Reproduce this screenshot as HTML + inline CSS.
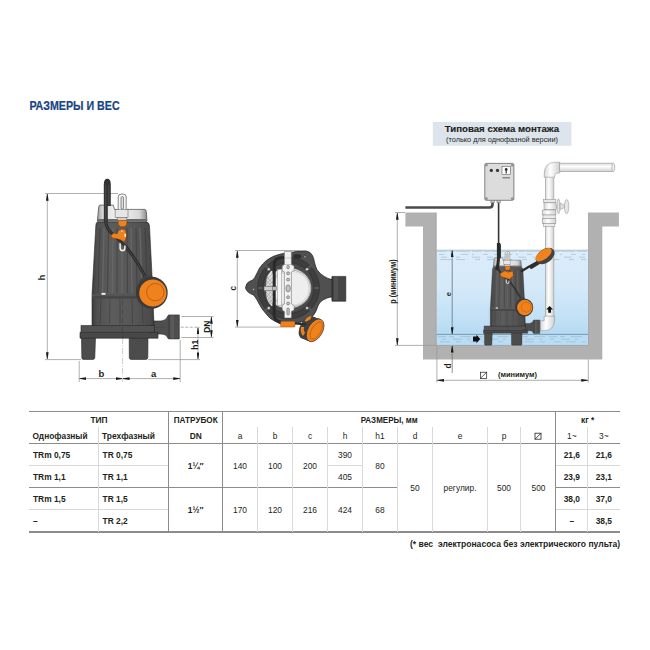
<!DOCTYPE html>
<html><head><meta charset="utf-8">
<style>
html,body{margin:0;padding:0;background:#fff;width:650px;height:650px;overflow:hidden}
svg{display:block}
text{font-family:"Liberation Sans",sans-serif;fill:#231f20}
.b{font-weight:bold}
.t{font-size:8.4px}
</style></head><body>
<svg width="650" height="650" viewBox="0 0 650 650">
<defs>
 <linearGradient id="water" x1="0" y1="0" x2="0" y2="1">
  <stop offset="0" stop-color="#dcedfa"/>
  <stop offset="0.4" stop-color="#d4e9f9"/>
  <stop offset="0.75" stop-color="#c0dff5"/>
  <stop offset="1" stop-color="#aad6f2"/>
 </linearGradient>
 <linearGradient id="silver" x1="0" y1="0" x2="1" y2="0">
  <stop offset="0" stop-color="#9c9c9c"/>
  <stop offset="0.12" stop-color="#dedede"/>
  <stop offset="0.45" stop-color="#f4f4f4"/>
  <stop offset="0.85" stop-color="#d6d6d6"/>
  <stop offset="1" stop-color="#8a8a8a"/>
 </linearGradient>
 <linearGradient id="body" x1="0" y1="0" x2="1" y2="0">
  <stop offset="0" stop-color="#3c3c3c"/>
  <stop offset="0.08" stop-color="#505050"/>
  <stop offset="0.3" stop-color="#5c5c5c"/>
  <stop offset="0.7" stop-color="#565656"/>
  <stop offset="0.95" stop-color="#4a4a4a"/>
  <stop offset="1" stop-color="#3a3a3a"/>
 </linearGradient>
 <linearGradient id="pipe" x1="0" y1="0" x2="1" y2="0">
  <stop offset="0" stop-color="#d8d8d8"/>
  <stop offset="0.4" stop-color="#ffffff"/>
  <stop offset="1" stop-color="#cfcfcf"/>
 </linearGradient>
 <linearGradient id="pipeh" x1="0" y1="0" x2="0" y2="1">
  <stop offset="0" stop-color="#d8d8d8"/>
  <stop offset="0.4" stop-color="#ffffff"/>
  <stop offset="1" stop-color="#cfcfcf"/>
 </linearGradient>
 <g id="pbody">
  <!-- outlet -->
  <path d="M150,321 L161,321 Q165.5,320.5 167,317.5 Q167.8,315 169,314.9 L179.3,314.9 L179.3,338.9 L169,338.9 Q167.8,338.9 167,336.5 Q165.5,334 161,334 L150,334 Z" fill="#4e4e4e" stroke="#262626" stroke-width="0.6"/>
  <line x1="169" y1="315.2" x2="169" y2="338.6" stroke="#2a2a2a" stroke-width="0.5"/>
  <rect x="170.5" y="315.5" width="3.5" height="23" fill="#5a5a5a"/>
  <line x1="150" y1="327.5" x2="166" y2="327.5" stroke="#444" stroke-width="0.5"/>
  <!-- feet -->
  <path d="M81.5,337 L95.5,337 L94.8,357.5 Q94.6,359.4 93,359.4 L83.2,359.4 Q81.8,359.4 81.8,357.5 Z" fill="#4c4c4c" stroke="#262626" stroke-width="0.6"/>
  <path d="M127.5,334.5 L150,334.5 L148,337 L147.8,357.5 Q147.6,359.4 146,359.4 L131,359.4 Q129.4,359.4 129.3,357.5 L129.2,337 Z" fill="#4c4c4c" stroke="#262626" stroke-width="0.6"/>
  <!-- base plates -->
  <path d="M80,332.3 L158,332.3 L158,338.2 L80,338.2 Z" fill="#484848" stroke="#262626" stroke-width="0.6"/>
  <path d="M81,325.5 L154.5,325.5 L154.5,332.3 L81,332.3 Z" fill="#525252" stroke="#262626" stroke-width="0.6"/>
  <!-- lower body -->
  <path d="M92,295 L152.8,295 L154,325.5 L92,325.5 Z" fill="url(#body)" stroke="#262626" stroke-width="0.6"/>
  <g stroke="#3a3a3a" stroke-width="0.6">
   <line x1="101" y1="298" x2="100" y2="324"/><line x1="110" y1="298" x2="109.5" y2="324"/>
   <line x1="120" y1="298" x2="120" y2="324"/><line x1="132" y1="298" x2="132.5" y2="324"/>
   <line x1="142" y1="298" x2="143" y2="324"/>
  </g>
  <!-- upper body -->
  <path d="M97.5,222 L146.5,222 Q149,222 149.5,226 L153,295 L92,295 L95.8,226 Q96,222 97.5,222 Z" fill="url(#body)" stroke="#262626" stroke-width="0.6"/>
  <g stroke="#666" stroke-width="1.4">
   <line x1="104" y1="228" x2="102.5" y2="293"/><line x1="113" y1="228" x2="112.5" y2="293"/>
   <line x1="122" y1="228" x2="122" y2="293"/>
   <line x1="131" y1="228" x2="132" y2="293"/><line x1="140" y1="228" x2="142" y2="293"/>
  </g>
  <g stroke="#3c3c3c" stroke-width="0.7">
   <line x1="100" y1="228" x2="98" y2="293"/><line x1="108.5" y1="228" x2="107.5" y2="293"/>
   <line x1="117" y1="228" x2="117" y2="293"/><line x1="127" y1="228" x2="127.5" y2="293"/>
   <line x1="136" y1="228" x2="137" y2="293"/><line x1="145" y1="228" x2="147.5" y2="293"/>
  </g>
  <rect x="92" y="294.8" width="61" height="3.9" fill="#474747"/><rect x="92" y="294.6" width="61" height="0.8" fill="#6a6a6a"/>
  <rect x="101.5" y="292.9" width="4" height="1.9" fill="#f2f2f2"/>
  <!-- cap -->
  <path d="M99.8,205.1 L113.3,205.1 L114.5,209.4 L144.8,209.4 Q146.2,209.6 146.3,211.5 L147,221.3 L97.3,221.3 L98.6,208 Q99,205.1 99.8,205.1 Z" fill="url(#silver)" stroke="#2a2a2a" stroke-width="0.6"/>
  <rect x="97.6" y="219" width="49.2" height="2.5" fill="#6a6a6a"/>
  <!-- handle -->
  <rect x="118.2" y="194.1" width="8" height="18" rx="2.8" fill="#f4f4f4" stroke="#3a3a3a" stroke-width="0.6"/>
  <rect x="121" y="196.6" width="2.5" height="12.6" rx="1.25" fill="#dcdcdc" stroke="#333" stroke-width="0.5"/>
  <rect x="115.1" y="209.4" width="12.9" height="8" fill="#e6e6e6" stroke="#555" stroke-width="0.5"/>
  <rect x="117.5" y="217.4" width="9.3" height="3.4" fill="#cfcfcf" stroke="#555" stroke-width="0.4"/>
  <!-- cable loop -->
  <path d="M105.8,222 L105.8,184.5 Q105.8,180.8 107.3,180.8 Q108.8,180.8 108.8,184.5 L108.8,206" fill="none" stroke="#333" stroke-width="4"/>
  <path d="M105.8,185 L105.8,221 M108.8,185 L108.8,205" stroke="#4c4c4c" stroke-width="1"/>
  <!-- cable down to float -->
  <path d="M105.6,221 Q106.5,229 112,233.5 Q120,240 127,248 Q138,262 146,278" fill="none" stroke="#2a2a2a" stroke-width="3"/>
  <path d="M105.6,221 Q106.5,229 112,233.5 Q120,240 127,248 Q138,262 146,278" fill="none" stroke="#4e4e4e" stroke-width="0.9"/>
  <!-- orange clip -->
  <path d="M118.2,220.5 L126.8,220.5 L126.8,224.5 L124.5,226.7 L120.5,226.7 L118.2,224.5 Z" fill="#ef821d" stroke="#6a3300" stroke-width="0.4"/>
  <path d="M110.8,235.5 L114,233 L117,234 L118.5,230.5 L121.5,229.1 L125.2,229.6 L126.2,233 L126.2,238 L124,242 L121,240 L118,239 L115,238.5 L112,237.8 Z" fill="#ef821d" stroke="#6a3300" stroke-width="0.4"/>
  <circle cx="121.9" cy="231.3" r="1" fill="#f6f6f6" stroke="#555" stroke-width="0.3"/>
  <rect x="124.5" y="233.8" width="1.4" height="3" fill="#f6f6f6"/>
  <!-- hook -->
  <path d="M120.1,243.3 L120.1,248 Q120.1,250.6 122.5,250.6 Q124.9,250.6 124.9,248 L124.9,245.5" fill="none" stroke="#f6f6f6" stroke-width="1.5"/>
  <line x1="122.4" y1="300" x2="122.4" y2="338" stroke="#3a3a3a" stroke-width="0.5" stroke-dasharray="5,1.5,1,1.5"/>
 </g>
 <g id="float1">
  <path d="M-12,-14 Q-2,-22 2,-16 L2,-6 L-12,-6 Z" fill="#444"/>
  <ellipse cx="0.2" cy="-1" rx="15.9" ry="16" fill="#3a3a3a"/>
  <circle cx="1.25" cy="-0.8" r="13.6" fill="#ef821d"/>
  <circle cx="3.7" cy="-1.6" r="8.7" fill="none" stroke="#9a4a08" stroke-width="0.6"/>
 </g>
 <marker id="ar" viewBox="0 0 10 4" refX="10" refY="2" markerWidth="6.8" markerHeight="2.7" orient="auto-start-reverse" markerUnits="userSpaceOnUse">
  <path d="M0,0 L10,1.6 L10,2.4 L0,4 z" fill="#1a1a1a"/>
 </marker>
</defs>

<!-- Title -->
<text x="29.4" y="110.4" class="b" style="font-size:11.9px;fill:#174483;stroke:#174483;stroke-width:0.2" textLength="90.2" lengthAdjust="spacingAndGlyphs">РАЗМЕРЫ И ВЕС</text>

<!-- ================= PUMP 1 (side) ================= -->
<!-- dimensions pump 1 -->
<g stroke="#9a9a9a" stroke-width="0.8" fill="none">
 <line x1="45" y1="193.5" x2="118" y2="193.5"/>
 <line x1="45" y1="359.6" x2="81" y2="359.6"/>
 <line x1="148" y1="359.6" x2="200" y2="359.6"/>
 <line x1="47.3" y1="194" x2="47.3" y2="359" marker-start="url(#ar)" marker-end="url(#ar)"/>
 <line x1="79.2" y1="361" x2="79.2" y2="382"/>
 <line x1="180.2" y1="340" x2="180.2" y2="382"/>
 <line x1="122.6" y1="338" x2="122.6" y2="382" stroke-dasharray="6,1.5,1,1.5" stroke-width="0.5"/>
 <line x1="79.5" y1="378.6" x2="122.3" y2="378.6" marker-start="url(#ar)" marker-end="url(#ar)"/>
 <line x1="122.9" y1="378.6" x2="180" y2="378.6" marker-start="url(#ar)" marker-end="url(#ar)"/>
 <line x1="181.4" y1="316.5" x2="213.6" y2="316.5"/>
 <line x1="181.4" y1="337.5" x2="213.6" y2="337.5"/>
 <line x1="180.8" y1="327.2" x2="199.7" y2="327.2" stroke-dasharray="3,1.5"/>
 <line x1="211.4" y1="317" x2="211.4" y2="337" marker-start="url(#ar)" marker-end="url(#ar)"/>
 <line x1="198" y1="327.5" x2="198" y2="359.2" marker-start="url(#ar)" marker-end="url(#ar)"/>
</g>
<use href="#pbody"/>
<use href="#float1" x="151.6" y="293.8"/>
<g class="b" style="font-size:9.5px">
 <text x="101.4" y="376.6" text-anchor="middle">b</text>
 <text x="153.6" y="376.6" text-anchor="middle">a</text>
 <text transform="translate(45.3,277.6) rotate(-90)" text-anchor="middle">h</text>
 <text transform="translate(210.1,326.7) rotate(-90)" text-anchor="middle" style="font-size:8.5px">DN</text>
 <text transform="translate(198.1,344.7) rotate(-90)" text-anchor="middle" style="font-size:8.5px">h1</text>
</g>

<!-- ================= PUMP 2 (top) ================= -->
<g>
 <!-- outlet -->
 <path d="M318,281 L332,279.5 L332,276.4 L345.8,276.4 L345.8,301.2 L332,301.2 L332,297 L318,295 Z" fill="#454545" stroke="#1e1e1e" stroke-width="0.6"/>
 <rect x="334" y="277.5" width="4" height="22.5" fill="#535353"/>
 <line x1="332" y1="277" x2="332" y2="300.6" stroke="#2a2a2a" stroke-width="0.5"/>
 <!-- outer shape -->
 <path d="M245.5,288.1 Q246,283 249.2,281.6 Q252.5,280.5 254.4,278.3 Q257,273 259.6,267.9 Q262.5,263.8 266.1,260.7 Q270,257.8 274,256.1 Q278.5,254.3 283.1,253.5 Q288,252.5 292.3,252.2 L298,251 L305.9,250.9 Q310.5,251.5 312.5,255.5 Q314,258.5 314.4,262 Q315.5,266.5 317,269.8 Q320,274 324.2,276.4 Q327.5,278.5 332,279.7 L332,296.7 Q327,297.5 322.9,300 Q320.5,301.5 319,303.9 Q317.2,307 316.4,310.4 Q314,316 309,319 Q300,323.5 291,323.6 Q285,324 279.2,323.4 Q274,321 270,318.2 Q265.5,313.5 262.2,309 Q259,304 257,299.9 Q255,296.5 253,294.7 Q247,293 245.5,288.1 Z" fill="#505050" stroke="#1e1e1e" stroke-width="0.7"/>
 <!-- dark rim -->
 <circle cx="288.5" cy="288" r="31" fill="#3e3e3e" stroke="#2a2a2a" stroke-width="0.5"/>
 <g stroke="#565656" stroke-width="2.2">
  <line x1="265" y1="265" x2="269" y2="269"/><line x1="312" y1="265" x2="308" y2="269"/>
  <line x1="265" y1="311" x2="269" y2="307"/><line x1="312" y1="311" x2="308" y2="307"/>
  <line x1="258" y1="288" x2="263" y2="288"/><line x1="288.5" y1="257.5" x2="288.5" y2="262"/>
  <line x1="319" y1="288" x2="314" y2="288"/>
 </g>
 <circle cx="288.5" cy="288" r="25.5" fill="#4a4a4a" stroke="#2a2a2a" stroke-width="0.5"/>
 <!-- light disc -->
 <ellipse cx="288.5" cy="288.2" rx="23" ry="20.6" fill="#dedede" stroke="#444" stroke-width="0.6"/>
 <ellipse cx="291" cy="288.4" rx="19.5" ry="18.4" fill="#ececec" stroke="#8a8a8a" stroke-width="0.6"/>
 <ellipse cx="291" cy="288.4" rx="18" ry="17" fill="#eeeeee" stroke="#b5b5b5" stroke-width="0.4"/>
 <!-- hatch grille left -->
 <path d="M266.5,279 Q265.5,288 266.5,297 Q268,303 271.5,306 L272.5,306 L272.5,271 L271,271 Q268,274 266.5,279 Z" fill="#e2e2e2"/>
 <g stroke="#7a7a7a" stroke-width="0.45">
  <line x1="266" y1="281" x2="272" y2="274"/><line x1="265.8" y1="285" x2="272.5" y2="277.5"/>
  <line x1="265.8" y1="289" x2="272.5" y2="281.5"/><line x1="266" y1="293" x2="272.5" y2="285.5"/>
  <line x1="266.5" y1="297" x2="272.5" y2="290"/><line x1="267.5" y1="300.5" x2="272.5" y2="294.5"/>
  <line x1="269" y1="303.5" x2="272.5" y2="299"/>
  <line x1="266" y1="276" x2="272.5" y2="283"/><line x1="265.8" y1="280" x2="272.5" y2="287"/>
  <line x1="265.8" y1="284" x2="272.5" y2="291"/><line x1="266" y1="288" x2="272.5" y2="295"/>
  <line x1="266.2" y1="292" x2="272.5" y2="299"/><line x1="267" y1="296" x2="272.5" y2="302"/>
  <line x1="268.5" y1="300" x2="272" y2="304"/>
 </g>
 <rect x="277.4" y="269.5" width="4.2" height="36" fill="#f6f6f6" stroke="#8a8a8a" stroke-width="0.5"/>
 <!-- handle bar -->
 <path d="M282.2,266 L284.4,264.5 L284.4,251.5 L291.4,251.5 L291.4,264.5 L294.1,266 L294.1,270.5 L291.4,272 L291.4,304 L294.1,305.5 L294.1,310 L291.4,311.5 L291.4,318 L284.4,318 L284.4,311.5 L282.2,310 L282.2,305.5 L284.4,304 L284.4,272 L282.2,270.5 Z" fill="#f2f2f2" stroke="#6a6a6a" stroke-width="0.55"/>
 <line x1="284.4" y1="258" x2="291.4" y2="258" stroke="#999" stroke-width="0.5"/>
 <line x1="284.4" y1="264.5" x2="291.4" y2="264.5" stroke="#999" stroke-width="0.5"/>
 <g fill="#c4c4c4" stroke="#4a4a4a" stroke-width="0.5">
  <rect x="286.9" y="265.5" width="2.4" height="3.2" rx="1"/>
  <circle cx="288.1" cy="273.3" r="1.5"/><circle cx="288.1" cy="279.6" r="1.5"/>
  <ellipse cx="288.1" cy="288.4" rx="2.2" ry="3.6"/>
  <circle cx="288.1" cy="297.2" r="1.5"/><circle cx="288.1" cy="303.5" r="1.5"/>
  <rect x="286.9" y="308" width="2.4" height="7" rx="1.2"/>
 </g>
 <!-- bolts -->
 <g fill="#d9d9d9" stroke="#333" stroke-width="0.4">
  <circle cx="268.8" cy="269.2" r="1.5"/><circle cx="307" cy="269.2" r="1.5"/>
  <circle cx="268.8" cy="308" r="1.5"/><circle cx="307" cy="308" r="1.5"/>
  <circle cx="253.5" cy="289.3" r="0.9"/><circle cx="305" cy="256.8" r="0.9"/>
 </g>
 <!-- cable -->
 <path d="M284,257.5 Q279,257.5 276.5,259 Q274.2,261 274.2,265 L274.2,316 Q274.5,320.5 281,322.2" fill="none" stroke="#2a2a2a" stroke-width="3"/>
 <rect x="264" y="286.3" width="10" height="4.4" fill="#d0d0d0" stroke="#555" stroke-width="0.5"/>
 <rect x="272.2" y="286.8" width="4" height="3.4" fill="#bbb" stroke="#444" stroke-width="0.4"/>
 <rect x="293.3" y="254.3" width="8" height="4.2" rx="2" fill="#2e2e2e"/>
  <!-- clip -->
 <rect x="280.6" y="321.2" width="14.4" height="5.9" rx="1" fill="#ef821d" stroke="#6a3300" stroke-width="0.4"/>
 <!-- float -->
 <g fill="#404040">
  <ellipse cx="0" cy="0" rx="7.3" ry="12.4" transform="translate(307.5,327.5) rotate(30)"/>
  <ellipse cx="0" cy="0" rx="7.3" ry="12.4" transform="translate(310,328.5) rotate(30)"/>
  <ellipse cx="0" cy="0" rx="7.6" ry="12.7" transform="translate(313,329.6) rotate(30)"/>
 </g>
 <path d="M301,327 Q300,333 303,336 L305,333 Q303,330 304,327 Z" fill="#ef821d"/>
 <path d="M304.5,320.5 Q307.5,315.5 312,315.8 L310.5,319.5 L306,322 Z" fill="#ef821d" stroke="#3a3a3a" stroke-width="0.4"/>
 <ellipse cx="0" cy="0" rx="7.3" ry="12.4" transform="translate(315.2,330.4) rotate(30)" fill="#ef821d" stroke="#2e2e2e" stroke-width="0.6"/>
 <ellipse cx="0" cy="0" rx="4.6" ry="9.6" transform="translate(316.2,330.6) rotate(30)" fill="none" stroke="#9a4a08" stroke-width="0.5"/>
 <path d="M295,323.5 L306,324.5" stroke="#2e2e2e" stroke-width="2.2"/>
</g>
<!-- dims pump 2 -->
<g stroke="#9a9a9a" stroke-width="0.8" fill="none">
 <line x1="235" y1="250.5" x2="299" y2="250.5"/>
 <line x1="235" y1="327.1" x2="281" y2="327.1"/>
 <line x1="237.3" y1="251" x2="237.3" y2="326.6" marker-start="url(#ar)" marker-end="url(#ar)"/>
</g>
<text class="b" transform="translate(235.6,288.2) rotate(-90)" text-anchor="middle" style="font-size:8.2px">c</text>

<!-- ================= INSTALLATION ================= -->
<rect x="432.8" y="121.9" width="138.6" height="23.9" fill="#dde4eb"/>
<text x="502" y="132.3" class="b" text-anchor="middle" style="font-size:9.7px;stroke:#231f20;stroke-width:0.15" textLength="114.4" lengthAdjust="spacingAndGlyphs">Типовая схема монтажа</text>
<text x="502" y="141.8" text-anchor="middle" style="font-size:7.7px" textLength="112" lengthAdjust="spacingAndGlyphs">(только для однофазной версии)</text>

<!-- water -->
<rect x="436.4" y="250" width="152" height="95.5" fill="url(#water)"/>
<rect x="436.4" y="334.2" width="152" height="11.2" fill="#b8ddf5"/>
<line x1="436.4" y1="334.4" x2="588.3" y2="334.4" stroke="#6f8798" stroke-width="0.8"/>
<line x1="436.4" y1="250.2" x2="588.3" y2="250.2" stroke="#9fb6c6" stroke-width="0.8"/>
<g stroke="#9db4c5" stroke-width="0.6" fill="none">
 <line x1="437" y1="251.4" x2="588" y2="251.4" stroke="#b4c6d3" stroke-width="0.7" stroke-dasharray="10,2,6,1,14,2"/>
 <line x1="439" y1="254.4" x2="586" y2="254.4" stroke-dasharray="5,6,3,8,7,4,2,9"/>
 <line x1="441" y1="257.2" x2="586" y2="257.2" stroke-dasharray="6,9,4,12,8,7"/>
 <line x1="440" y1="259.6" x2="586" y2="259.6" stroke-dasharray="12,4,9,10,5,7"/>
 <line x1="438" y1="336.6" x2="586" y2="336.6" stroke-dasharray="8,3,5,6,11,4"/>
 <line x1="442" y1="339.2" x2="586" y2="339.2" stroke-dasharray="4,7,9,5,3,8"/>
 <line x1="440" y1="341.8" x2="586" y2="341.8" stroke-dasharray="10,6,5,9,7,5"/>
</g>
<!-- walls -->
<path d="M405.4,212.5 L436.4,212.5 L436.4,345.4 L588.3,345.4 L588.3,212.5 L618.9,212.5 L618.9,226.5 L602.3,226.5 L602.3,359.4 L423,359.4 L423,226.5 L405.4,226.5 Z" fill="#b1b1b1"/>
<line x1="436.4" y1="345.4" x2="588.3" y2="345.4" stroke="#8c8c8c" stroke-width="0.6"/>
<line x1="436.2" y1="212.5" x2="436.2" y2="345.4" stroke="#999" stroke-width="0.6"/>
<line x1="588.5" y1="212.5" x2="588.5" y2="345.4" stroke="#999" stroke-width="0.6"/>

<!-- pipe -->
<rect x="545.3" y="176" width="8.6" height="142" fill="url(#pipe)" stroke="#8a8a8a" stroke-width="0.5"/>
<path d="M544.2,177.2 L544.2,174 Q544.2,162.2 556,162.2 L559.8,162.2 L559.8,173 L558,173 Q554.6,173 554.6,176 L554.6,177.2 Z" fill="url(#pipe)" stroke="#8a8a8a" stroke-width="0.5"/>
<rect x="559.8" y="163.1" width="53.5" height="8.6" fill="url(#pipeh)" stroke="#8a8a8a" stroke-width="0.5"/>
<ellipse cx="613.3" cy="167.4" rx="1.5" ry="4.3" fill="#eee" stroke="#8a8a8a" stroke-width="0.5"/>
<!-- valve -->
<rect x="543.5" y="199.5" width="12.4" height="3.2" fill="#e8e8e8" stroke="#8a8a8a" stroke-width="0.5"/>
<path d="M544,202.7 L556,202.7 L556,204 Q557.5,206.5 556,209.5 L544,209.5 Z" fill="url(#pipe)" stroke="#8a8a8a" stroke-width="0.5"/>
<ellipse cx="558.5" cy="206.3" rx="1.5" ry="7.5" fill="#e4e4e4" stroke="#8a8a8a" stroke-width="0.5"/>
<path d="M560,203 L564.4,205 L564.4,207.6 L560,209.6 Z" fill="#e0e0e0" stroke="#8a8a8a" stroke-width="0.5"/>
<ellipse cx="566.6" cy="206.6" rx="2.2" ry="7.2" fill="#e6e6e6" stroke="#8a8a8a" stroke-width="0.5"/>
<rect x="542.2" y="210" width="13.7" height="5" fill="url(#pipe)" stroke="#8a8a8a" stroke-width="0.5"/>
<rect x="543" y="215" width="12.2" height="3.5" fill="#ececec" stroke="#8a8a8a" stroke-width="0.5"/>
<rect x="542.2" y="218.5" width="13.7" height="5" fill="url(#pipe)" stroke="#8a8a8a" stroke-width="0.5"/>
<rect x="543.5" y="223.5" width="11.4" height="2.8" fill="#ececec" stroke="#8a8a8a" stroke-width="0.5"/>
<!-- bottom elbow -->
<path d="M544.2,316.2 L554.6,316.2 L554.6,320 Q554.6,330.8 543,330.8 L540.4,330.8 L540.4,320.8 L544.2,320.8 Z" fill="url(#pipe)" stroke="#8a8a8a" stroke-width="0.5"/>
<path d="M549.6,306 L553,309.5 L551,309.5 L551,312.7 L548.2,312.7 L548.2,309.5 L546.2,309.5 Z" fill="#111"/>

<!-- control box -->
<path d="M492.5,202.5 L492.5,204.5 Q492.5,207.5 489.5,207.5 L405.4,207.5" fill="none" stroke="#4a4a4a" stroke-width="2.6"/>
<line x1="498.6" y1="202.5" x2="498.6" y2="243" stroke="#333" stroke-width="1.6"/>
<rect x="484.8" y="163.4" width="29.1" height="36.9" rx="1.5" fill="#dcdcdc" stroke="#555" stroke-width="0.7"/>
<g fill="#aaa" stroke="#555" stroke-width="0.4">
 <circle cx="486.5" cy="165.2" r="1"/><circle cx="512.2" cy="165.2" r="1"/>
 <circle cx="486.5" cy="198.6" r="1"/><circle cx="512.2" cy="198.6" r="1"/>
</g>
<circle cx="491.3" cy="170.4" r="1.6" fill="#333"/>
<circle cx="497.5" cy="170.4" r="1.6" fill="#333"/>
<rect x="502" y="166.3" width="8.4" height="8.3" fill="#fff" stroke="#444" stroke-width="0.5"/>
<circle cx="506.2" cy="169.4" r="1.4" fill="#333"/>
<rect x="505.6" y="169.5" width="1.2" height="4" fill="#333"/>
<rect x="502.4" y="177.2" width="7.6" height="1.2" fill="#777"/>
<rect x="490.9" y="200.3" width="3.3" height="2.5" fill="#c8c8c8" stroke="#555" stroke-width="0.4"/>
<rect x="497" y="200.3" width="3.3" height="2.5" fill="#c8c8c8" stroke="#555" stroke-width="0.4"/>

<!-- pump in tank -->
<g transform="translate(483.5,345) scale(0.567) translate(-80,-359)">
 <use href="#pbody"/>
 <use href="#float1" x="151.6" y="293.8"/>
</g>
<path d="M498.4,243 L498.4,259 Q498,266 496.5,270" fill="none" stroke="#2a2a2a" stroke-width="3"/>
<path d="M500,273.5 L505,270.8 L508,272.3 L512.8,271 L513.4,275.5 L509.5,279.2 L505,277.8 L501,276.5 Z" fill="#ef821d" stroke="#6a3300" stroke-width="0.4"/>
<path d="M521,271.5 Q529,266.5 537.5,262" fill="none" stroke="#2a2a2a" stroke-width="2.4"/>
<path d="M531.5,267 L539.5,262" stroke="#2e2e2e" stroke-width="3.8" stroke-linecap="round"/>
<g transform="translate(545.2,256) rotate(-36)">
 <ellipse cx="0" cy="0" rx="10.4" ry="6.8" fill="#424242"/>
 <ellipse cx="-0.6" cy="-2" rx="9.4" ry="4.6" fill="#ef821d"/>
</g>

<!-- installation dims -->
<g stroke="#9a9a9a" stroke-width="0.8" fill="none">
 <line x1="395" y1="212.5" x2="405" y2="212.5"/>
 <line x1="395" y1="345.4" x2="436.4" y2="345.4"/>
 <line x1="397.3" y1="213" x2="397.3" y2="345" marker-start="url(#ar)" marker-end="url(#ar)"/>
 <line x1="452.2" y1="250.5" x2="452.2" y2="334" marker-start="url(#ar)" marker-end="url(#ar)" stroke="#5f7584"/>
 <line x1="452.2" y1="373" x2="452.2" y2="345.8" marker-end="url(#ar)" stroke="#777"/>
 <line x1="436.9" y1="345.4" x2="436.9" y2="382.5"/>
 <line x1="588.3" y1="359.4" x2="588.3" y2="382.5"/>
 <line x1="437.2" y1="380.3" x2="588" y2="380.3" marker-start="url(#ar)" marker-end="url(#ar)"/>
</g>
<path d="M473,336.5 L476.5,336.5 L476.5,334.8 L480.2,339 L476.5,343.2 L476.5,341.5 L473,341.5 Z" fill="#111"/>
<g stroke="#231f20" stroke-width="0.7" fill="none">
 <rect x="480.4" y="372.2" width="6.3" height="6.2"/>
 <line x1="480.4" y1="378.4" x2="486.7" y2="372.2"/>
</g>
<text x="498" y="377.3" class="b" style="font-size:8px" textLength="39" lengthAdjust="spacingAndGlyphs">(минимум)</text>
<text class="b" transform="translate(395.9,303.8) rotate(-90)" style="font-size:8.4px" textLength="44.6" lengthAdjust="spacingAndGlyphs">p (минимум)</text>
<text class="b" transform="translate(451,294.2) rotate(-90)" text-anchor="middle" style="font-size:7.5px">e</text>
<text class="b" transform="translate(450.6,366) rotate(-90)" text-anchor="middle" style="font-size:8.4px">d</text>

<!-- ================= TABLE ================= -->
<g stroke="#8c8c8c" stroke-width="1" fill="none" shape-rendering="crispEdges">
 <line x1="29" y1="411.5" x2="620" y2="411.5"/>
 <line x1="29" y1="443" x2="620" y2="443"/>
 <line x1="29" y1="487.5" x2="397.5" y2="487.5"/>
 <line x1="556" y1="487.5" x2="620" y2="487.5"/>
 <line x1="29" y1="532" x2="620" y2="532" stroke-width="1.4"/>
 <line x1="168.5" y1="411" x2="168.5" y2="532"/>
 <line x1="222.5" y1="411" x2="222.5" y2="532"/>
 <line x1="555.5" y1="411" x2="555.5" y2="532"/>
</g>
<g stroke="#d9d9d9" stroke-width="1" fill="none" shape-rendering="crispEdges">
 <line x1="29" y1="465.5" x2="168" y2="465.5"/>
 <line x1="327" y1="465.5" x2="362" y2="465.5"/>
 <line x1="556" y1="465.5" x2="620" y2="465.5"/>
 <line x1="29" y1="509.5" x2="168" y2="509.5"/>
 <line x1="556" y1="509.5" x2="620" y2="509.5"/>
 <line x1="98.5" y1="427" x2="98.5" y2="532"/>
 <line x1="257.5" y1="427" x2="257.5" y2="532"/>
 <line x1="292.5" y1="427" x2="292.5" y2="532"/>
 <line x1="327.5" y1="427" x2="327.5" y2="532"/>
 <line x1="362.5" y1="427" x2="362.5" y2="532"/>
 <line x1="397.5" y1="427" x2="397.5" y2="532"/>
 <line x1="432.5" y1="427" x2="432.5" y2="532"/>
 <line x1="487.5" y1="427" x2="487.5" y2="532"/>
 <line x1="520.5" y1="427" x2="520.5" y2="532"/>
 <line x1="587.5" y1="427" x2="587.5" y2="532"/>
</g>

<g class="t">
 <!-- header row 1 -->
 <text x="99" y="423.3" class="b" text-anchor="middle">ТИП</text>
 <text x="195.7" y="423.3" class="b" text-anchor="middle" textLength="44" lengthAdjust="spacingAndGlyphs">ПАТРУБОК</text>
 <text x="389.2" y="423.3" class="b" text-anchor="middle" textLength="57" lengthAdjust="spacingAndGlyphs">РАЗМЕРЫ, мм</text>
 <text x="587.7" y="423.3" class="b" text-anchor="middle">кг *</text>
 <!-- header row 2 -->
 <text x="32.6" y="439.2" class="b" textLength="55" lengthAdjust="spacingAndGlyphs">Однофазный</text>
 <text x="102" y="439.2" class="b" textLength="53" lengthAdjust="spacingAndGlyphs">Трехфазный</text>
 <text x="195.7" y="439.2" class="b" text-anchor="middle">DN</text>
 <text x="240" y="439.2" text-anchor="middle">a</text>
 <text x="275" y="439.2" text-anchor="middle">b</text>
 <text x="310" y="439.2" text-anchor="middle">c</text>
 <text x="345" y="439.2" text-anchor="middle">h</text>
 <text x="380" y="439.2" text-anchor="middle">h1</text>
 <text x="415" y="439.2" text-anchor="middle">d</text>
 <text x="460" y="439.2" text-anchor="middle">e</text>
 <text x="504" y="439.2" text-anchor="middle">p</text>
 <text x="571.8" y="439.2" text-anchor="middle">1~</text>
 <text x="603.8" y="439.2" text-anchor="middle">3~</text>
 <!-- rows -->
 <g class="b">
  <text x="33" y="457.8">TRm 0,75</text>
  <text x="102.6" y="457.8">TR 0,75</text>
  <text x="33" y="480">TRm 1,1</text>
  <text x="102.6" y="480">TR 1,1</text>
  <text x="33" y="502">TRm 1,5</text>
  <text x="102.6" y="502">TR 1,5</text>
  <text x="33" y="524.3">–</text>
  <text x="102.6" y="524.3">TR 2,2</text>
  <text x="195.7" y="469" text-anchor="middle">1¼″</text>
  <text x="195.7" y="513" text-anchor="middle">1½″</text>
  <text x="571.8" y="457.8" text-anchor="middle">21,6</text>
  <text x="603.8" y="457.8" text-anchor="middle">21,6</text>
  <text x="571.8" y="480" text-anchor="middle">23,9</text>
  <text x="603.8" y="480" text-anchor="middle">23,1</text>
  <text x="571.8" y="502" text-anchor="middle">38,0</text>
  <text x="603.8" y="502" text-anchor="middle">37,0</text>
  <text x="571.8" y="524.3" text-anchor="middle">–</text>
  <text x="603.8" y="524.3" text-anchor="middle">38,5</text>
 </g>
 <text x="240" y="469" text-anchor="middle">140</text>
 <text x="275" y="469" text-anchor="middle">100</text>
 <text x="310" y="469" text-anchor="middle">200</text>
 <text x="345" y="457.8" text-anchor="middle">390</text>
 <text x="345" y="480" text-anchor="middle">405</text>
 <text x="380" y="469" text-anchor="middle">80</text>
 <text x="240" y="513" text-anchor="middle">170</text>
 <text x="275" y="513" text-anchor="middle">120</text>
 <text x="310" y="513" text-anchor="middle">216</text>
 <text x="345" y="513" text-anchor="middle">424</text>
 <text x="380" y="513" text-anchor="middle">68</text>
 <text x="415" y="491" text-anchor="middle">50</text>
 <text x="460" y="491" text-anchor="middle">регулир.</text>
 <text x="504" y="491" text-anchor="middle">500</text>
 <text x="538.5" y="491" text-anchor="middle">500</text>
</g>
<!-- diameter symbol in header -->
<g stroke="#231f20" stroke-width="0.8" fill="none">
 <rect x="535" y="433.2" width="6" height="6"/>
 <line x1="535" y1="439.2" x2="541" y2="433.2"/>
</g>

<text x="410" y="547" class="b" style="font-size:8.4px" textLength="210" lengthAdjust="spacingAndGlyphs">(* вес&#160; электронасоса без электрического пульта)</text>

</svg>
</body></html>
